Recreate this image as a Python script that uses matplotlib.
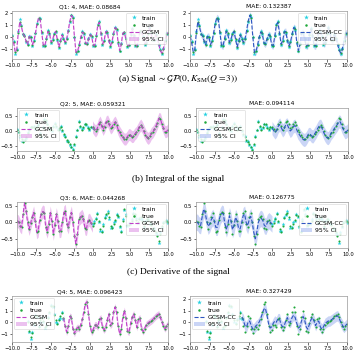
import numpy as np
import matplotlib
matplotlib.use("Agg")
import matplotlib.pyplot as plt

plt.rcParams['mathtext.fontset'] = 'stix'

W, H = 355, 362

# ---------------- data ----------------
xticks = [-10.0, -7.5, -5.0, -2.5, 0.0, 2.5, 5.0, 7.5, 10.0]
grid_step = 0.2

titles_left = ["Q1: 4, MAE: 0.08684", "Q2: 5, MAE: 0.059321",
               "Q3: 6, MAE: 0.044268", "Q4: 5, MAE: 0.096423"]
titles_right = ["MAE: 0.132387", "MAE: 0.094114",
                "MAE: 0.126775", "MAE: 0.327429"]
captions = [r"(a) Signal $\sim \mathcal{GP}(0, K_{\rm SM}(Q=3))$",
            "(b) Integral of the signal",
            "(c) Derivative of the signal"]

# row 1: signal, x in [-10, 10]
r1_true = [0.10, -0.40, -1.20, -1.05, 0.40, 1.30, 0.92, 0.30, 0.12, -0.32,
           -0.60, 0.07, 0.07, -0.60, -0.33, 0.35, 1.13, 1.63, 1.53, 0.45,
           -0.63, -0.71, -0.10, 0.50, 0.35, -0.40, -0.18, 0.28, 0.50, -0.15,
           -0.80, -0.30, 0.20, -0.10, -0.40, -0.13, 0.54, 1.33, 1.83, 1.65,
           0.05, -1.24, -1.16, -0.65, 0.00, 0.44, 0.34, -0.44, -0.54, -0.15,
           0.24, 0.14, -0.64, -0.68, 0.12, 1.05, 1.25, 0.35, -0.55, -0.30,
           0.46, 0.48, -0.25, -0.70, -0.40, 0.28, 0.82, 0.71, -0.41, -1.10,
           -0.55, 0.35, 0.41, -0.15, -0.71, -0.66, 0.18, 0.70, 0.18, -0.66,
           -0.71, -0.10, 0.50, 0.52, 0.00, -0.52, -0.47, 0.32, 0.80, 0.42,
           -0.20, -0.18, 0.20, -0.02, -0.55, -1.08, -1.30, -0.98, -0.26, 0.32,
           0.35]
r1_train = [0.20, -0.30, -1.35, -1.00, 0.50, 1.50, 1.00, 0.25, 0.20, -0.40,
            -0.55, 0.15, 0.00, -0.70, -0.25, 0.40, 1.20, 1.55, 1.60, 0.40,
            -0.70, -0.65, -0.05, 0.60, 0.30, -0.45, -0.10, 0.35, 0.45, -0.25,
            -0.90, -0.25, 0.30, -0.05, -0.50, -0.05, 0.60, 1.25, 1.90, 1.70,
            0.00, -1.40, -1.10, -0.55, 0.05, 0.50, 0.25, -0.50, -0.45, -0.05,
            0.30, 0.05, -0.70, -0.60, 0.20, 1.10, 1.35, 0.25, -0.65, -0.20,
            0.55, 0.40, -0.30, -0.80, -0.30, 0.35, 0.90, 0.65, -0.50, -1.15,
            -0.45, 0.40, 0.35, -0.05, -0.80, -0.60, 0.25, 0.75, 0.10, -0.75,
            -0.65, -0.05, 0.55, 0.45, 0.10, -0.60, -0.40, 0.40, 0.85, 0.35,
            -0.10, -0.25, 0.25, -0.10, -0.65, -1.00, -1.40, -0.90, -0.20, 0.40,
            0.30]

# row 2: integral, x in [-10, 10]; train [-10, 0]; test [0, 10]
r2_true = [0.05, -0.05, -0.15, -0.28, -0.38, -0.31, -0.20, -0.08, 0.05, 0.12,
           0.15, 0.12, 0.10, 0.15, 0.20, -0.10, -0.17, 0.10, 0.36, 0.38,
           0.22, 0.12, 0.03, 0.02, 0.14, 0.25, 0.16, 0.05, 0.10, 0.15,
           0.03, -0.10, -0.20, -0.30, -0.38, -0.45, -0.55, -0.62, -0.45, -0.20,
           0.05, 0.30, 0.18, 0.05, 0.12, 0.22, 0.22, 0.10, 0.08, 0.13,
           0.14, 0.06, 0.00, 0.07, 0.22, 0.30, 0.18, 0.05, 0.15, 0.30,
           0.34, 0.22, 0.10, 0.15, 0.25, 0.30, 0.20, 0.05, -0.05, -0.13,
           -0.21, -0.27, -0.27, -0.20, -0.12, -0.13, -0.19, -0.18, -0.10, -0.05,
           0.04, 0.14, 0.20, 0.12, 0.00, -0.12, -0.21, -0.25, -0.18, -0.08,
           -0.03, 0.06, 0.16, 0.28, 0.42, 0.40, 0.22, 0.10, -0.02, -0.02,
           0.05]
r2_train = [0.08, -0.02, -0.20, -0.32, -0.35, -0.28, -0.24, -0.05, 0.08, 0.15,
            0.12, 0.16, 0.07, 0.18, 0.23, -0.06, -0.20, 0.14, 0.40, 0.35,
            0.25, 0.09, 0.06, -0.01, 0.17, 0.28, 0.13, 0.08, 0.07, 0.18,
            0.00, -0.13, -0.17, -0.33, -0.35, -0.48, -0.52, -0.60, -0.48, -0.16,
            0.02, 0.33, 0.15, 0.08, 0.10, 0.25, 0.19, 0.13, 0.05, 0.15,
            0.11]
r2_cc_mean = [0.10, 0.02, -0.05, 0.02, 0.15, 0.22, 0.12, 0.02, 0.08, 0.20,
              0.22, 0.10, 0.00, 0.05, 0.15, 0.18, 0.08, -0.05, -0.12, -0.20,
              -0.26, -0.30, -0.28, -0.20, -0.10, -0.10, -0.17, -0.18, -0.10, -0.02,
              0.08, 0.16, 0.18, 0.08, -0.05, -0.15, -0.22, -0.24, -0.16, -0.06,
              0.00, 0.08, 0.15, 0.22, 0.32, 0.30, 0.15, 0.05, -0.04, -0.02,
              0.04]

# row 3: derivative, x in [-10, 10]; train [0, 10]; test [-10, 0]
r3_true = [0.05, 0.02, -0.10, -0.15, 0.25, 0.60, 0.35, 0.00, -0.20, -0.03,
           0.15, 0.30, 0.05, -0.30, -0.25, 0.08, 0.25, 0.33, 0.30, -0.15,
           -0.28, -0.05, 0.30, 0.05, -0.35, -0.08, 0.25, 0.05, -0.27, -0.25,
           0.00, 0.30, 0.35, -0.05, -0.15, 0.15, 0.30, 0.00, -0.40, -0.65,
           -0.35, 0.10, 0.15, 0.20, 0.10, -0.18, -0.20, 0.05, 0.08, -0.02,
           -0.10, -0.02, 0.10, 0.25, 0.05, -0.20, -0.30, -0.10, 0.12, 0.25,
           0.30, 0.15, -0.12, -0.18, -0.05, 0.08, 0.22, 0.20, -0.10, -0.30,
           0.05, 0.42, 0.20, -0.08, -0.08, -0.02, 0.05, 0.25, 0.27, 0.08,
           0.02, 0.10, 0.15, 0.05, -0.10, 0.00, 0.10, 0.06, 0.00, -0.08,
           -0.17, -0.22, -0.28, -0.40, -0.58, -0.35, -0.10, -0.02, 0.05, 0.03,
           0.00]
r3_train = [-0.06, 0.03, 0.14, 0.30, 0.00, -0.25, -0.27, -0.05, 0.17, 0.22,
            0.36, 0.10, -0.16, -0.14, 0.00, 0.04, 0.27, 0.16, -0.15, -0.26,
            0.10, 0.38, 0.25, -0.12, -0.03, -0.06, 0.09, 0.30, 0.22, 0.12,
            -0.02, 0.14, 0.11, 0.09, -0.14, 0.04, 0.06, 0.10, -0.04, -0.04,
            -0.21, -0.18, -0.32, -0.36, -0.62, -0.30, -0.14, 0.02, 0.01, 0.07,
            -0.03]
r3_cc_mean = [0.00, 0.00, -0.08, -0.10, 0.15, 0.40, 0.30, 0.05, -0.12, -0.05,
              0.08, 0.15, 0.05, -0.15, -0.15, 0.05, 0.20, 0.28, 0.25, -0.05,
              -0.20, -0.05, 0.20, 0.05, -0.22, -0.10, 0.15, 0.05, -0.18, -0.20,
              -0.02, 0.20, 0.25, 0.00, -0.10, 0.08, 0.18, 0.00, -0.30, -0.50,
              -0.30, 0.00, 0.10, 0.12, 0.05, -0.10, -0.12, 0.00, 0.05, 0.00,
              -0.05]

# row 4: signal (another channel), x in [-8, 10]; train [-8, -3.4]; test [-3.4, 10]
r4_true = [0.00, -0.75, -1.30, -0.90, -0.10, 0.50, 0.55, -0.40, 0.15, 0.35,
           0.10, -0.40, -0.30, 0.35, 0.85, 1.35, 1.40, 0.60, 0.15, -0.12,
           0.15, 0.50, 0.75, 0.35, -0.35, -0.85, -0.35, 0.50, 0.40, -0.55,
           -0.95, -0.60, -0.45, -0.55, -0.25, 0.25, 0.90, 1.60, 1.75, 0.70,
           -0.35, -0.85, -0.65, -0.25, -0.25, -0.40, 0.25, 0.35, -0.45, -0.65,
           -0.45, 0.20, 0.70, -0.25, -0.10, 0.85, 1.30, 0.85, -0.35, -1.00,
           -0.60, 0.45, 1.00, 0.35, -0.75, -0.85, -0.10, 0.45, 0.70, 0.15,
           -0.45, 0.25, 0.35, -0.55, -0.80, -0.55, -0.20, -0.10, 0.00, 0.10,
           0.20, 0.35, 0.50, 0.60, 0.70, 0.45, 0.05, -0.30, -0.55, -0.35,
           -0.15]
r4_train = [0.10, -0.85, -1.45, -0.80, -0.20, 0.60, 0.45, -0.30, 0.05, 0.45,
            0.00, -0.50, -0.20, 0.45, 0.75, 1.45, 1.30, 0.70, 0.05, -0.05,
            0.25, 0.40, 0.85, 0.30]
r4_cc_mean = [0.45, 0.20, -0.30, -0.40, 0.00, 0.10, -0.30, -0.60, -0.50, -0.30,
              -0.20, 0.00, 0.30, 0.70, 1.10, 1.20, 0.60, -0.10, -0.50, -0.40,
              -0.10, 0.10, 0.00, 0.30, 0.30, -0.20, -0.40, -0.30, 0.10, 0.40,
              0.00, 0.00, 0.40, 0.60, 0.40, -0.10, -0.50, -0.40, 0.10, 0.50,
              0.20, -0.40, -0.60, -0.20, 0.20, 0.40, 0.10, -0.30, 0.00, 0.10,
              -0.40, -0.60, -0.40, -0.10, 0.00, 0.10, 0.10, 0.20, 0.30, 0.40,
              0.50, 0.55, 0.35, 0.00, -0.25, -0.45, -0.30, -0.15]

true_x0 = [-10.0, -10.0, -10.0, -8.0]
train_x0 = [-10.0, -10.0, 0.0, -8.0]
test_x0 = [-10.0, 0.0, -10.0, -3.4]
test_x1 = [10.0, 10.0, 0.0, 10.0]
ci_gcsm = [0.18, 0.2, 0.2, 0.3]
ci_cc = [0.3, 0.22, 0.25, 0.45]
ylims = [(-1.8, 2.2), (-0.67, 0.77), (-0.78, 0.62), (-1.7, 2.25)]
yticks = [[-1, 0, 1, 2], [-0.5, 0.0, 0.5], [-0.5, 0.0, 0.5], [-1, 0, 1, 2]]
legend_locs = ["upper right", "upper left", "upper right", "upper left"]

trues = [r1_true, r2_true, r3_true, r4_true]
trains = [r1_train, r2_train, r3_train, r4_train]
cc_means = [None, r2_cc_mean, r3_cc_mean, r4_cc_mean]

# ---------------- layout (pixels) ----------------
rows_px = [(11, 59), (108, 151), (202, 248), (296, 342)]
left_px = [(12, 168), (17, 168), (17, 168), (12, 168)]
right_px = [(190, 347), (196, 348), (196, 348), (190, 347)]
caption_y = [79, 179, 272]

C_TRAIN = '#22d0e0'
C_TRUE = '#1fa83a'
C_GCSM = '#c040c8'
C_GCSM_FILL = '#dc8ee2'
C_CC = '#2f56c0'
C_CC_FILL = '#9fb3ef'

fig = plt.figure(figsize=(W / 100, H / 100), dpi=100)


def add_ax(l, r, t, b):
    return fig.add_axes([l / W, 1 - b / H, (r - l) / W, (b - t) / H])


def grid(x0, n):
    return np.round(x0 + grid_step * np.arange(n), 1)


for i in range(4):
    t, b = rows_px[i]
    ytrue = np.array(trues[i])
    xtrue = grid(true_x0[i], len(ytrue))
    ytrain = np.array(trains[i])
    xtrain = grid(train_x0[i], len(ytrain))
    tmask = (xtrue >= test_x0[i] - 1e-9) & (xtrue <= test_x1[i] + 1e-9)
    xtest = xtrue[tmask]
    for side in range(2):
        if side == 0:
            ax = add_ax(left_px[i][0], left_px[i][1], t, b)
            mean = ytrue[tmask]
            sd = ci_gcsm[i]
            lc, fc, name, title = C_GCSM, C_GCSM_FILL, 'GCSM', titles_left[i]
        else:
            ax = add_ax(right_px[i][0], right_px[i][1], t, b)
            mean = ytrue[tmask] if cc_means[i] is None else np.array(cc_means[i])
            sd = ci_cc[i]
            lc, fc, name, title = C_CC, C_CC_FILL, 'GCSM-CC', titles_right[i]
        ax.plot(xtrain, ytrain, linestyle='none', marker='*', ms=3.0,
                color=C_TRAIN, mew=0, label='train')
        ax.plot(xtrue, ytrue, linestyle='none', marker='.', ms=3.0,
                color=C_TRUE, mew=0, label='true')
        ax.plot(xtest, mean, linestyle='--', lw=0.8, color=lc, label=name)
        ax.fill_between(xtest, mean - sd, mean + sd, color=fc, alpha=0.55,
                        lw=0, label='95% CI')
        ax.set_xlim(-10, 10)
        ax.set_ylim(*ylims[i])
        ax.set_xticks(xticks)
        ax.set_yticks(yticks[i])
        ax.tick_params(labelsize=3.8, length=1.8, width=0.4, pad=1)
        for s in ax.spines.values():
            s.set_linewidth(0.5)
            s.set_color('#999999')
        ax.set_title(title, fontsize=4.3, pad=2)
        leg = ax.legend(loc=legend_locs[i], fontsize=4.4, handlelength=1.7,
                        borderpad=0.4, labelspacing=0.3, handletextpad=0.5,
                        framealpha=0.85, borderaxespad=0.3, markerscale=1.2)
        leg.get_frame().set_linewidth(0.4)

for j, cap in enumerate(captions):
    fig.text(178 / W, 1 - caption_y[j] / H, cap, ha='center', va='center',
             fontsize=6.8, family='Liberation Serif')

fig.savefig('out.png', dpi=100)
